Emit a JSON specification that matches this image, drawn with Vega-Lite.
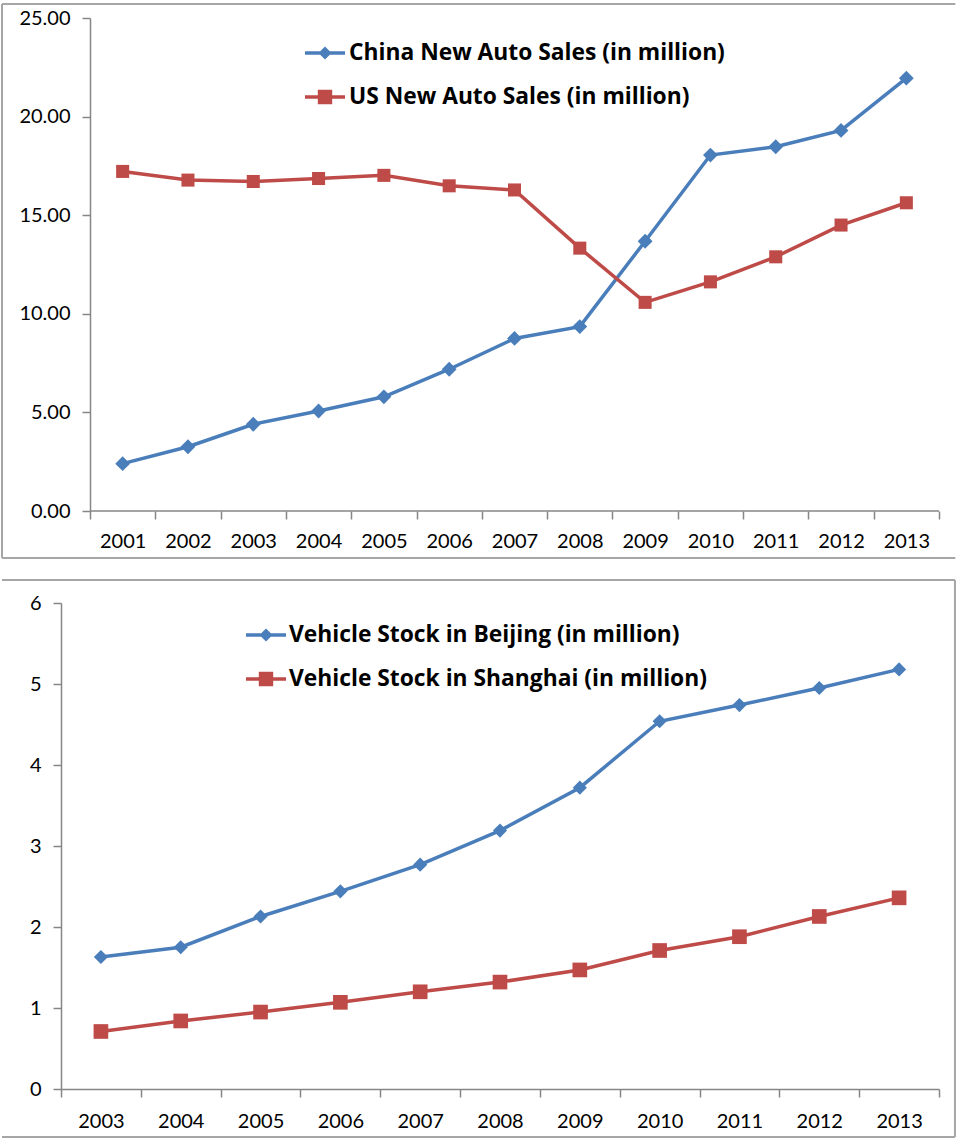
{
  "$schema": "https://vega.github.io/schema/vega-lite/v6.json",
  "padding": {"left": 1, "top": 2, "right": 0, "bottom": 0},
  "background": "white",
  "spacing": 19,
  "config": {
    "view": {"stroke": null},
    "font": "Lato",
    "axis": {"labelFont": "Lato", "labelFontSize": 20, "labelColor": "#000000", "domainColor": "#868686", "tickColor": "#868686", "domainWidth": 1.5, "tickWidth": 1.5, "tickSize": 8, "grid": false, "labelOverlap": false, "labelFlush": false}
  },
  "resolve": {"scale": {"color": "independent", "shape": "independent"}, "legend": {"color": "independent", "shape": "independent"}},
  "datasets": {
    "sales": [
      {"year": 2001, "series": "China New Auto Sales (in million)", "value": 2.40},
      {"year": 2002, "series": "China New Auto Sales (in million)", "value": 3.26},
      {"year": 2003, "series": "China New Auto Sales (in million)", "value": 4.40},
      {"year": 2004, "series": "China New Auto Sales (in million)", "value": 5.07},
      {"year": 2005, "series": "China New Auto Sales (in million)", "value": 5.79},
      {"year": 2006, "series": "China New Auto Sales (in million)", "value": 7.19},
      {"year": 2007, "series": "China New Auto Sales (in million)", "value": 8.75},
      {"year": 2008, "series": "China New Auto Sales (in million)", "value": 9.35},
      {"year": 2009, "series": "China New Auto Sales (in million)", "value": 13.68},
      {"year": 2010, "series": "China New Auto Sales (in million)", "value": 18.05},
      {"year": 2011, "series": "China New Auto Sales (in million)", "value": 18.47},
      {"year": 2012, "series": "China New Auto Sales (in million)", "value": 19.30},
      {"year": 2013, "series": "China New Auto Sales (in million)", "value": 21.95},
      {"year": 2001, "series": "US New Auto Sales (in million)", "value": 17.22},
      {"year": 2002, "series": "US New Auto Sales (in million)", "value": 16.78},
      {"year": 2003, "series": "US New Auto Sales (in million)", "value": 16.71},
      {"year": 2004, "series": "US New Auto Sales (in million)", "value": 16.86},
      {"year": 2005, "series": "US New Auto Sales (in million)", "value": 17.02},
      {"year": 2006, "series": "US New Auto Sales (in million)", "value": 16.49},
      {"year": 2007, "series": "US New Auto Sales (in million)", "value": 16.28},
      {"year": 2008, "series": "US New Auto Sales (in million)", "value": 13.33},
      {"year": 2009, "series": "US New Auto Sales (in million)", "value": 10.58},
      {"year": 2010, "series": "US New Auto Sales (in million)", "value": 11.62},
      {"year": 2011, "series": "US New Auto Sales (in million)", "value": 12.89},
      {"year": 2012, "series": "US New Auto Sales (in million)", "value": 14.50},
      {"year": 2013, "series": "US New Auto Sales (in million)", "value": 15.63}
    ],
    "stock": [
      {"year": 2003, "series": "Vehicle Stock in Beijing (in million)", "value": 1.63},
      {"year": 2004, "series": "Vehicle Stock in Beijing (in million)", "value": 1.75},
      {"year": 2005, "series": "Vehicle Stock in Beijing (in million)", "value": 2.13},
      {"year": 2006, "series": "Vehicle Stock in Beijing (in million)", "value": 2.44},
      {"year": 2007, "series": "Vehicle Stock in Beijing (in million)", "value": 2.77},
      {"year": 2008, "series": "Vehicle Stock in Beijing (in million)", "value": 3.19},
      {"year": 2009, "series": "Vehicle Stock in Beijing (in million)", "value": 3.72},
      {"year": 2010, "series": "Vehicle Stock in Beijing (in million)", "value": 4.54},
      {"year": 2011, "series": "Vehicle Stock in Beijing (in million)", "value": 4.74},
      {"year": 2012, "series": "Vehicle Stock in Beijing (in million)", "value": 4.95},
      {"year": 2013, "series": "Vehicle Stock in Beijing (in million)", "value": 5.18},
      {"year": 2003, "series": "Vehicle Stock in Shanghai (in million)", "value": 0.71},
      {"year": 2004, "series": "Vehicle Stock in Shanghai (in million)", "value": 0.84},
      {"year": 2005, "series": "Vehicle Stock in Shanghai (in million)", "value": 0.95},
      {"year": 2006, "series": "Vehicle Stock in Shanghai (in million)", "value": 1.07},
      {"year": 2007, "series": "Vehicle Stock in Shanghai (in million)", "value": 1.20},
      {"year": 2008, "series": "Vehicle Stock in Shanghai (in million)", "value": 1.32},
      {"year": 2009, "series": "Vehicle Stock in Shanghai (in million)", "value": 1.47},
      {"year": 2010, "series": "Vehicle Stock in Shanghai (in million)", "value": 1.71},
      {"year": 2011, "series": "Vehicle Stock in Shanghai (in million)", "value": 1.88},
      {"year": 2012, "series": "Vehicle Stock in Shanghai (in million)", "value": 2.13},
      {"year": 2013, "series": "Vehicle Stock in Shanghai (in million)", "value": 2.36}
    ]
  },
  "vconcat": [
    {
      "width": 878,
      "height": 493,
      "layer": [
        {
          "data": {"name": "sales"},
          "transform": [{"filter": "datum.series === 'China New Auto Sales (in million)'"}],
          "mark": {"type": "line", "strokeWidth": 3.5, "color": "#4a7ebb"},
          "encoding": {
            "x": {"field": "year", "type": "quantitative", "scale": {"domain": [2000.056, 2013.5], "nice": false, "zero": false},
              "axis": {"title": null, "domain": false, "values": [2000.5, 2001.5, 2002.5, 2003.5, 2004.5, 2005.5, 2006.5, 2007.5, 2008.5, 2009.5, 2010.5, 2011.5, 2012.5, 2013.5],
                "labelExpr": "datum.value < 2013 ? '' + (datum.value + 0.5) : ''",
                "labelOffset": 32.65, "labelPadding": 12}},
            "y": {"field": "value", "type": "quantitative", "scale": {"domain": [0, 25], "nice": false, "zero": false},
              "axis": {"title": null, "offset": -29, "values": [0, 5, 10, 15, 20, 25], "format": ".2f", "labelPadding": 12}}
          }
        },
        {
          "data": {"name": "sales"},
          "transform": [{"filter": "datum.series === 'US New Auto Sales (in million)'"}],
          "mark": {"type": "line", "strokeWidth": 3.5, "color": "#be4b48"},
          "encoding": {"x": {"field": "year", "type": "quantitative"}, "y": {"field": "value", "type": "quantitative"}}
        },
        {
          "data": {"name": "sales"},
          "transform": [{"filter": "datum.series === 'China New Auto Sales (in million)'"}],
          "mark": {"type": "point", "shape": "diamond", "filled": true, "size": 220, "color": "#4a7ebb", "opacity": 1},
          "encoding": {"x": {"field": "year", "type": "quantitative"}, "y": {"field": "value", "type": "quantitative"}}
        },
        {
          "data": {"name": "sales"},
          "transform": [{"filter": "datum.series === 'US New Auto Sales (in million)'"}],
          "mark": {"type": "point", "shape": "square", "filled": true, "size": 170, "color": "#be4b48", "opacity": 1},
          "encoding": {"x": {"field": "year", "type": "quantitative"}, "y": {"field": "value", "type": "quantitative"}}
        },
        {
          "data": {"name": "sales"},
          "mark": {"type": "point", "filled": true, "opacity": 0},
          "encoding": {
            "x": {"field": "year", "type": "quantitative"},
            "y": {"field": "value", "type": "quantitative"},
            "color": {"field": "series", "type": "nominal", "scale": {"domain": ["China New Auto Sales (in million)", "US New Auto Sales (in million)"], "range": ["#4a7ebb", "#be4b48"]},
              "legend": {"orient": "none", "legendX": 244, "legendY": 15, "title": null, "symbolSize": 1600, "symbolOpacity": 1, "symbolStrokeWidth": 0, "labelFont": "Open Sans", "labelFontWeight": "bold", "labelFontSize": 22.8, "labelColor": "#000000", "labelLimit": 800, "rowPadding": 12, "padding": 0, "labelOffset": 4}},
            "shape": {"field": "series", "type": "nominal", "scale": {"domain": ["China New Auto Sales (in million)", "US New Auto Sales (in million)"], "range": ["M-1,-0.09L-0.24,-0.09L0,-0.33L0.24,-0.09L1,-0.09L1,0.09L0.24,0.09L0,0.33L-0.24,0.09L-1,0.09Z", "M-1,-0.09H-0.36V-0.36H0.36V-0.09H1V0.09H0.36V0.36H-0.36V0.09H-1Z"]},
              "legend": {"orient": "none", "legendX": 244, "legendY": 15, "title": null, "symbolSize": 1600, "symbolOpacity": 1, "symbolStrokeWidth": 0, "labelFont": "Open Sans", "labelFontWeight": "bold", "labelFontSize": 22.8, "labelColor": "#000000", "labelLimit": 800, "rowPadding": 12, "padding": 0, "labelOffset": 4}}
          }
        },
        {
          "data": {"values": [{}]},
          "mark": {"type": "rule", "stroke": "#868686", "strokeWidth": 1.5},
          "encoding": {"x": {"datum": 2000.5}, "x2": {"datum": 2013.5}, "y": {"datum": 0}}
        },
        {
          "data": {"values": [{}]},
          "mark": {"type": "rule", "stroke": "#a6a6a6", "strokeWidth": 2},
          "encoding": {"x": {"datum": 1999.1526}, "y": {"datum": -2.383}, "y2": {"datum": 25.71}}
        },
        {
          "data": {"values": [{}]},
          "mark": {"type": "rule", "stroke": "#a6a6a6", "strokeWidth": 2},
          "encoding": {"x": {"datum": 1999.1526}, "x2": {"datum": 2013.75}, "y": {"datum": 25.71}}
        },
        {
          "data": {"values": [{}]},
          "mark": {"type": "rule", "stroke": "#a6a6a6", "strokeWidth": 2},
          "encoding": {"x": {"datum": 1999.1526}, "x2": {"datum": 2013.75}, "y": {"datum": -2.383}}
        }
      ]
    },
    {
      "width": 878,
      "height": 486,
      "layer": [
        {
          "data": {"name": "stock"},
          "transform": [{"filter": "datum.series === 'Vehicle Stock in Beijing (in million)'"}],
          "mark": {"type": "line", "strokeWidth": 3.5, "color": "#4a7ebb"},
          "encoding": {
            "x": {"field": "year", "type": "quantitative", "scale": {"domain": [2002.5, 2013.5], "nice": false, "zero": false},
              "axis": {"title": null, "values": [2002.5, 2003.5, 2004.5, 2005.5, 2006.5, 2007.5, 2008.5, 2009.5, 2010.5, 2011.5, 2012.5, 2013.5],
                "labelExpr": "datum.value < 2013 ? '' + (datum.value + 0.5) : ''",
                "labelOffset": 39.91, "labelPadding": 14}},
            "y": {"field": "value", "type": "quantitative", "scale": {"domain": [0, 6], "nice": false, "zero": false},
              "axis": {"title": null, "values": [0, 1, 2, 3, 4, 5, 6], "format": "d", "labelPadding": 12}}
          }
        },
        {
          "data": {"name": "stock"},
          "transform": [{"filter": "datum.series === 'Vehicle Stock in Shanghai (in million)'"}],
          "mark": {"type": "line", "strokeWidth": 3.5, "color": "#be4b48"},
          "encoding": {"x": {"field": "year", "type": "quantitative"}, "y": {"field": "value", "type": "quantitative"}}
        },
        {
          "data": {"name": "stock"},
          "transform": [{"filter": "datum.series === 'Vehicle Stock in Beijing (in million)'"}],
          "mark": {"type": "point", "shape": "diamond", "filled": true, "size": 200, "color": "#4a7ebb", "opacity": 1},
          "encoding": {"x": {"field": "year", "type": "quantitative"}, "y": {"field": "value", "type": "quantitative"}}
        },
        {
          "data": {"name": "stock"},
          "transform": [{"filter": "datum.series === 'Vehicle Stock in Shanghai (in million)'"}],
          "mark": {"type": "point", "shape": "square", "filled": true, "size": 215, "color": "#be4b48", "opacity": 1},
          "encoding": {"x": {"field": "year", "type": "quantitative"}, "y": {"field": "value", "type": "quantitative"}}
        },
        {
          "data": {"name": "stock"},
          "mark": {"type": "point", "filled": true, "opacity": 0},
          "encoding": {
            "x": {"field": "year", "type": "quantitative"},
            "y": {"field": "value", "type": "quantitative"},
            "color": {"field": "series", "type": "nominal", "scale": {"domain": ["Vehicle Stock in Beijing (in million)", "Vehicle Stock in Shanghai (in million)"], "range": ["#4a7ebb", "#be4b48"]},
              "legend": {"orient": "none", "legendX": 185, "legendY": 12, "title": null, "symbolSize": 1600, "symbolOpacity": 1, "symbolStrokeWidth": 0, "labelFont": "Open Sans", "labelFontWeight": "bold", "labelFontSize": 22.8, "labelColor": "#000000", "labelLimit": 800, "rowPadding": 12, "padding": 0, "labelOffset": 3}},
            "shape": {"field": "series", "type": "nominal", "scale": {"domain": ["Vehicle Stock in Beijing (in million)", "Vehicle Stock in Shanghai (in million)"], "range": ["M-1,-0.09L-0.24,-0.09L0,-0.33L0.24,-0.09L1,-0.09L1,0.09L0.24,0.09L0,0.33L-0.24,0.09L-1,0.09Z", "M-1,-0.09H-0.36V-0.36H0.36V-0.09H1V0.09H0.36V0.36H-0.36V0.09H-1Z"]},
              "legend": {"orient": "none", "legendX": 185, "legendY": 12, "title": null, "symbolSize": 1600, "symbolOpacity": 1, "symbolStrokeWidth": 0, "labelFont": "Open Sans", "labelFontWeight": "bold", "labelFontSize": 22.8, "labelColor": "#000000", "labelLimit": 800, "rowPadding": 12, "padding": 0, "labelOffset": 3}}
          }
        },
        {
          "data": {"values": [{}]},
          "mark": {"type": "rule", "stroke": "#a6a6a6", "strokeWidth": 2},
          "encoding": {"x": {"datum": 2001.761}, "x2": {"datum": 2013.70}, "y": {"datum": 6.284}}
        },
        {
          "data": {"values": [{}]},
          "mark": {"type": "rule", "stroke": "#a6a6a6", "strokeWidth": 2},
          "encoding": {"x": {"datum": 2013.70}, "y": {"datum": -0.593}, "y2": {"datum": 6.284}}
        },
        {
          "data": {"values": [{}]},
          "mark": {"type": "rule", "stroke": "#a6a6a6", "strokeWidth": 2},
          "encoding": {"x": {"datum": 2001.761}, "x2": {"datum": 2013.70}, "y": {"datum": -0.593}}
        }
      ]
    }
  ]
}
